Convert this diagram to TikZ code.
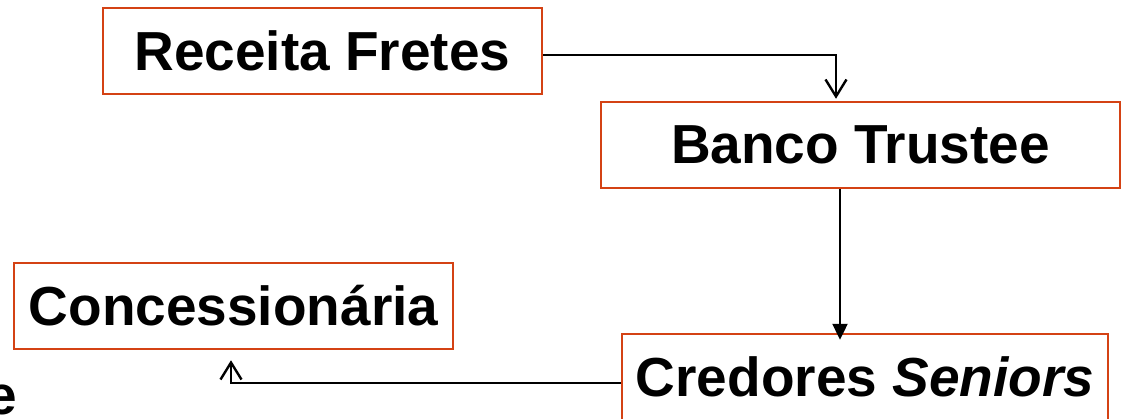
\documentclass[tikz,border=0pt]{standalone}
\usepackage{fontspec}
\setmainfont{Liberation Sans}
\usetikzlibrary{arrows.meta,calc}
\definecolor{boxred}{RGB}{212,66,20}
\begin{document}
\begin{tikzpicture}[x=1pt,y=-1pt,
  box/.style={draw=boxred, line width=2.5pt, minimum height=86pt, inner sep=0pt,
    font=\fontsize{55}{60}\selectfont\bfseries},
  conn/.style={draw=black, line width=2.4pt},
  barb/.style={-{Straight Barb[length=17pt,width=21pt,line width=2.4pt]}},
  filled/.style={-{Triangle[length=16pt,width=15pt]}}]
\clip (0,0) rectangle (1122,418);
\useasboundingbox (0,0) rectangle (1122,418);
\node[box, minimum width=439pt] (rf) at (322.5,51) {Receita Fretes};
\node[box, minimum width=519pt] (bt) at (860.5,145) {Banco Trustee};
\node[box, minimum width=439pt] (cc) at (233.5,306) {Concessionária};
\node[box, minimum width=486pt] (cs) at (865,377) {Credores \textit{Seniors}};
\node[anchor=base east, inner sep=0pt, font=\fontsize{55}{60}\selectfont\bfseries] (ee) at (17,414) {e};
\draw[conn, barb] ([yshift=-4pt]rf.east) -| ([xshift=-24.5pt, yshift=2pt]bt.north);
\draw[conn, filled, shorten >=-7pt] ([xshift=-20.5pt]bt.south) -- ([xshift=-20.5pt]bt.south |- cs.north);
\draw[conn, barb, shorten >=10pt] ([yshift=-6pt]cs.west) -| ([xshift=-2.5pt]cc.south);
\end{tikzpicture}
\end{document}
